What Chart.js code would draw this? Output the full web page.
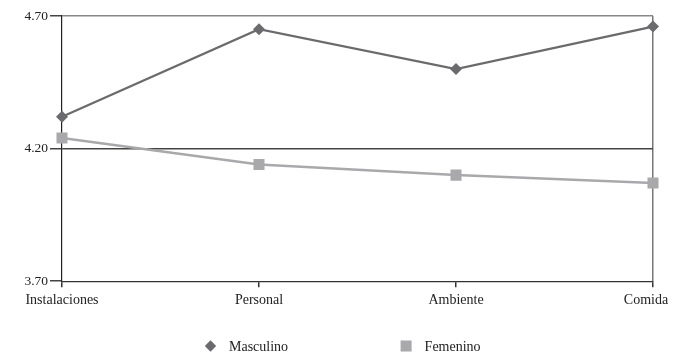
<!DOCTYPE html>
<html>
<head>
<meta charset="utf-8">
<script src="https://cdn.jsdelivr.net/npm/chart.js@4/dist/chart.umd.min.js"></script>
<style>
  html, body { margin: 0; padding: 0; background: #ffffff; }
  #wrap { width: 673px; height: 354px; position: relative; }
</style>
</head>
<body>
<div id="wrap"><canvas id="c" width="673" height="354"></canvas></div>
<script>
// Category labels along the x axis
const categories = ['Instalaciones', 'Personal', 'Ambiente', 'Comida'];
// Mean ratings per group
const masculino = [4.32, 4.65, 4.50, 4.66];
const femenino = [4.24, 4.14, 4.10, 4.07];
// Y axis tick values
const yTicks = [3.70, 4.20, 4.70];

const serif = '"Liberation Serif", "DejaVu Serif", serif';

// Wide-spaced legend row under the plot, using each dataset's own marker style
const spacedLegend = {
  id: 'spacedLegend',
  afterDraw(chart, args, opts) {
    const ctx = chart.ctx;
    const y = opts.y;
    let x = chart.chartArea.left + opts.startOffset;
    ctx.save();
    ctx.font = '14px ' + serif;
    ctx.textBaseline = 'middle';
    ctx.textAlign = 'left';
    chart.data.datasets.forEach((ds) => {
      const r = ds.pointRadius;
      ctx.beginPath();
      ctx.fillStyle = ds.backgroundColor;
      if (ds.pointStyle === 'rectRot') {
        const h = r * 0.95;
        ctx.moveTo(x, y - h); ctx.lineTo(x + h, y); ctx.lineTo(x, y + h); ctx.lineTo(x - h, y);
        ctx.closePath(); ctx.fill();
      } else {
        const s = r * Math.SQRT1_2;
        ctx.fillRect(x - s, y - s, 2 * s, 2 * s);
      }
      ctx.fillStyle = '#222';
      const tx = x + opts.textGap;
      ctx.fillText(ds.label, tx, y + 1);
      x = tx + ctx.measureText(ds.label).width + opts.itemGap;
    });
    ctx.restore();
  }
};

new Chart(document.getElementById('c'), {
  type: 'line',
  plugins: [spacedLegend],
  data: {
    labels: categories,
    datasets: [
      {
        label: 'Masculino',
        data: masculino,
        borderColor: '#6b6b6e',
        backgroundColor: '#6b6b6e',
        borderWidth: 2.2,
        pointStyle: 'rectRot',
        pointRadius: 6,
        pointHoverRadius: 6,
        pointBorderWidth: 0,
        tension: 0
      },
      {
        label: 'Femenino',
        data: femenino,
        borderColor: '#a9a9ac',
        backgroundColor: '#a9a9ac',
        borderWidth: 2.5,
        pointStyle: 'rect',
        pointRadius: 7.8,
        pointHoverRadius: 7.8,
        pointBorderWidth: 0,
        tension: 0
      }
    ]
  },
  options: {
    responsive: false,
    animation: false,
    events: [],
    layout: { padding: { left: 0, right: 20, top: 16, bottom: 40 } },
    plugins: {
      tooltip: { enabled: false },
      legend: { display: false },
      spacedLegend: { y: 346, startOffset: 148.5, textGap: 18.5, itemGap: 118 }
    },
    scales: {
      x: {
        offset: false,
        afterFit: (scale) => { scale.paddingRight = 0; scale.paddingLeft = 0; },
        border: { display: true, color: '#333', width: 1.2 },
        grid: {
          display: true,
          drawOnChartArea: true,
          drawTicks: true,
          tickLength: 6,
          tickColor: '#333',
          color: (ctx) => ctx.index === categories.length - 1 ? '#777' : 'rgba(0,0,0,0)',
          lineWidth: 1.5
        },
        ticks: {
          color: '#222',
          padding: 5,
          maxRotation: 0,
          font: { family: serif, size: 14 },
          // keep the rightmost label inside the canvas edge
          callback: (v, i) => i === categories.length - 1 ? categories[i] + '\u2002\u2002' : categories[i]
        }
      },
      y: {
        min: yTicks[0],
        max: yTicks[yTicks.length - 1],
        afterBuildTicks: (scale) => { scale.ticks = yTicks.map(v => ({ value: v })); },
        afterFit: (scale) => { scale.width = 62; },
        border: { display: true, color: '#222', width: 1.2 },
        grid: {
          drawTicks: true,
          tickLength: 12,
          tickColor: '#444',
          color: (ctx) => {
            const v = ctx.tick && ctx.tick.value;
            if (v === yTicks[0]) return 'rgba(0,0,0,0)';
            if (v === yTicks[1]) return '#444';
            return '#888';
          },
          lineWidth: 1.5
        },
        ticks: {
          color: '#222',
          padding: 2,
          font: { family: serif, size: 13.5 },
          callback: (v) => Number(v).toFixed(2)
        }
      }
    }
  }
});
</script>
</body>
</html>
